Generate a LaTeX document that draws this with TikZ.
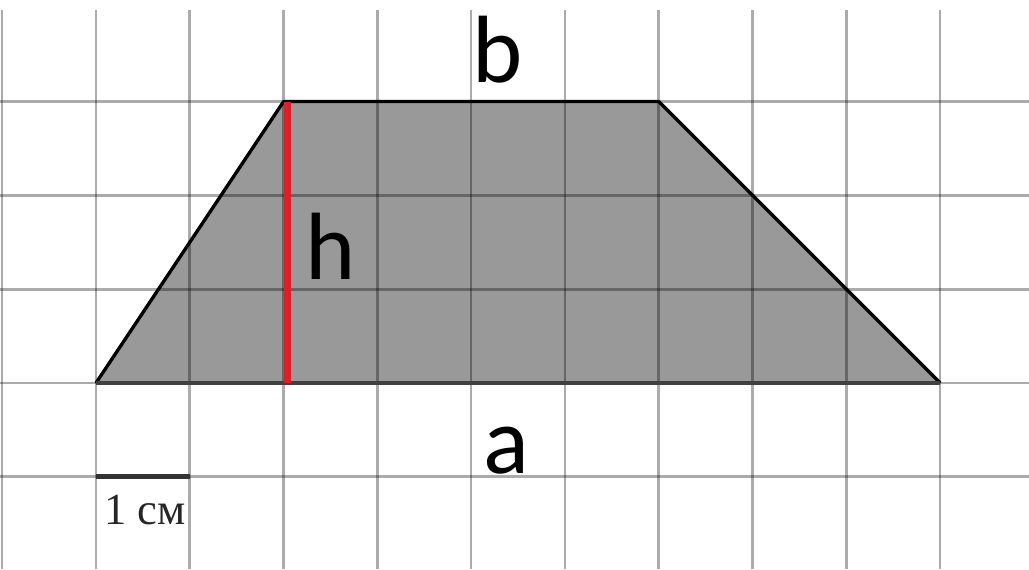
\documentclass[tikz,border=0pt]{standalone}
\usepackage{fontspec}
\setmainfont{Carlito}
\newfontfamily\cmfont{Liberation Serif}
\usetikzlibrary{positioning}
\definecolor{hred}{HTML}{DD1F2A}
\definecolor{trapfill}{HTML}{999999}
\tikzset{
  % the squared paper
  paper/.style  = {black, opacity=0.33, line width=0.8pt},
  % the trapezoid's slanted and upper sides
  side/.style   = {black, line width=1pt, line join=round},
  % the lower base
  base/.style   = {black!75, line width=1.3pt},
  % the height
  hgt/.style    = {hred, line width=2.1pt},
  % the scale bar
  bar/.style    = {black!80, line width=1.5pt},
  % a letter label
  lbl/.style    = {font=\fontsize{29}{34}\selectfont, inner sep=0pt, anchor=base},
}

\begin{document}
\begin{tikzpicture}
  \useasboundingbox (-1.023,-1.983) rectangle (9.947,4.083);
  \coordinate (A) at (0,0);
  \coordinate (B) at (9,0);
  \coordinate (C) at (6,3);
  \coordinate (D) at (2,3);
  \coordinate (H) at (2.04,0);
  \coordinate (Ht) at (2.04,3);
  % trapezoid
  \fill[trapfill] (A) -- (B) -- (C) -- (D) -- cycle;
  % grid
  \foreach \x in {-1,...,9}
    \draw[paper] (\x,-1.983) -- (\x,3.98);
  \foreach \y in {-1,...,3}
    \draw[paper] (-1.023,\y) -- (9.947,\y);
  % outline
  \draw[side] (A) -- (D) -- (C) -- (B);
  \draw[base] (A) -- (B);
  \draw[hgt] (H) -- (Ht);
  % scale
  \coordinate (s0) at (0,-1);
  \coordinate (s1) at (1,-1);
  \draw[bar] (s0) -- (s1);
  \node[anchor=base west, inner sep=0pt, text=black!85,
        font=\cmfont\fontsize{13.5}{16}\selectfont] (cm) at (0.08,-1.51) {1 см};
  % labels
  \node[lbl] (b) at (4.28,3.2)  {b};
  \node[lbl] (h) at (2.5,1.1)   {h};
  \node[lbl] (a) at (4.38,-0.96) {a};
\end{tikzpicture}
\end{document}
